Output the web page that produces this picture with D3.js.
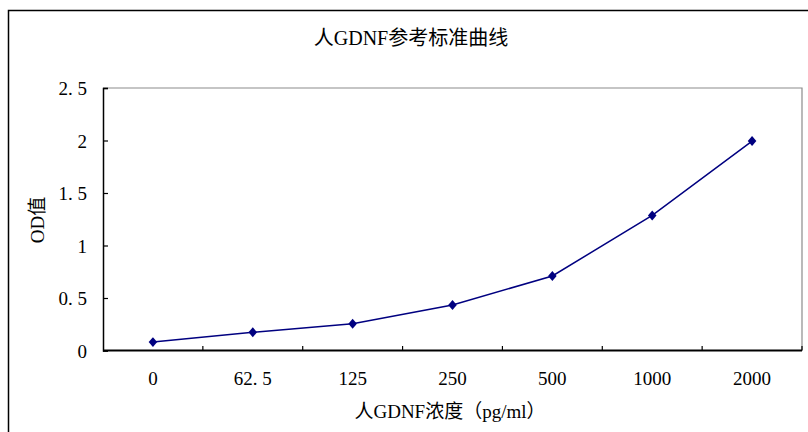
<!DOCTYPE html>
<html>
<head>
<meta charset="utf-8">
<script src="https://cdn.jsdelivr.net/npm/d3@7"></script>
<style>
  html, body { margin: 0; padding: 0; background: #fff; }
  text { font-family: "Liberation Serif", "Noto Sans CJK SC", serif; fill: #000; }
</style>
</head>
<body>
<div id="container"></div>
<script>
const LINE_COLOR = '#000080'

// data
var categories = ['0', '62.5', '125', '250', '500', '1000', '2000']
var od_values = [0.08, 0.173, 0.255, 0.433, 0.71, 1.286, 1.995]
var y_ticks = [0, 0.5, 1, 1.5, 2, 2.5]
var y_tick_labels = ['0', '0. 5', '1', '1. 5', '2', '2. 5']
var x_tick_labels = ['0', '62. 5', '125', '250', '500', '1000', '2000']

var scene_width = 808
var scene_height = 432
var plot = {left: 103, right: 802, top: 88, bottom: 350.5}

var svg = d3.select('#container').append('svg')
    .attr('width', scene_width)
    .attr('height', scene_height)

// outer chart frame (right and bottom edges fall outside the picture)
svg.append('rect')
    .attr('x', 8.5)
    .attr('y', 10.5)
    .attr('width', 820)
    .attr('height', 440)
    .attr('fill', 'none')
    .attr('stroke', '#000')
    .attr('stroke-width', 1.5)

var x = d3.scaleBand()
    .domain(categories)
    .range([plot.left, plot.right])
    .padding(0)

var y = d3.scaleLinear()
    .domain([0, 2.5])
    .range([plot.bottom, plot.top])

// grey top and right edges of plot area
svg.append('path')
    .attr('d', 'M' + plot.left + ',' + y(2.5) + 'H' + plot.right + 'V' + y(0))
    .attr('fill', 'none')
    .attr('stroke', '#8c8c8c')
    .attr('stroke-width', 1.2)

// y axis
var y_axis = d3.axisLeft(y)
    .tickValues(y_ticks)
    .tickSize(-5)
    .tickPadding(16)
    .tickFormat(function(d, i) { return y_tick_labels[i] })

var gy = svg.append('g')
    .attr('transform', 'translate(' + plot.left + ',0)')
    .call(y_axis)
gy.select('.domain').attr('stroke', '#000').attr('stroke-width', 1.5)
gy.selectAll('.tick line').attr('stroke', '#000').attr('stroke-width', 1.2)
gy.selectAll('.tick text')
    .style('font-size', '19px')
    .attr('dy', '0.35em')

// x axis: ticks on category boundaries, labels at centres
var gx = svg.append('g')
svg.append('line')
    .attr('x1', plot.left)
    .attr('x2', plot.right)
    .attr('y1', y(0))
    .attr('y2', y(0))
    .attr('stroke', '#000')
    .attr('stroke-width', 1.8)

gx.selectAll('line.xtick')
    .data(categories)
    .enter().append('line')
    .attr('class', 'xtick')
    .attr('x1', function(d) { return x(d) + x.bandwidth() })
    .attr('x2', function(d) { return x(d) + x.bandwidth() })
    .attr('y1', y(0))
    .attr('y2', y(0) - 4.5)
    .attr('stroke', '#000')
    .attr('stroke-width', 1.2)

gx.selectAll('text.xlabel')
    .data(categories)
    .enter().append('text')
    .attr('class', 'xlabel')
    .attr('x', function(d) { return x(d) + x.bandwidth() / 2 })
    .attr('y', 378)
    .attr('dy', '0.35em')
    .attr('text-anchor', 'middle')
    .style('font-size', '19px')
    .text(function(d, i) { return x_tick_labels[i] })

// series line + diamond markers
var line = d3.line()
    .x(function(d, i) { return x(categories[i]) + x.bandwidth() / 2 })
    .y(function(d) { return y(d) })

svg.append('path')
    .datum(od_values)
    .attr('d', line)
    .attr('fill', 'none')
    .attr('stroke', LINE_COLOR)
    .attr('stroke-width', 1.5)

svg.selectAll('path.marker')
    .data(od_values)
    .enter().append('path')
    .attr('class', 'marker')
    .attr('d', d3.symbol().type(d3.symbolDiamond2).size(52))
    .attr('transform', function(d, i) {
        return 'translate(' + (x(categories[i]) + x.bandwidth() / 2) + ',' + y(d) + ') scale(0.95,1.1)'
    })
    .attr('fill', LINE_COLOR)

// titles
svg.append('text')
    .attr('x', 411)
    .attr('y', 38)
    .attr('dy', '0.35em')
    .attr('text-anchor', 'middle')
    .style('font-size', '20px')
    .text('人GDNF参考标准曲线')

svg.append('text')
    .attr('x', 450)
    .attr('y', 411)
    .attr('dy', '0.35em')
    .attr('text-anchor', 'middle')
    .style('font-size', '19px')
    .text('人GDNF浓度（pg/ml）')

svg.append('text')
    .attr('transform', 'translate(37,220) rotate(-90)')
    .attr('dy', '0.35em')
    .attr('text-anchor', 'middle')
    .style('font-size', '19px')
    .text('OD值')
</script>
</body>
</html>
